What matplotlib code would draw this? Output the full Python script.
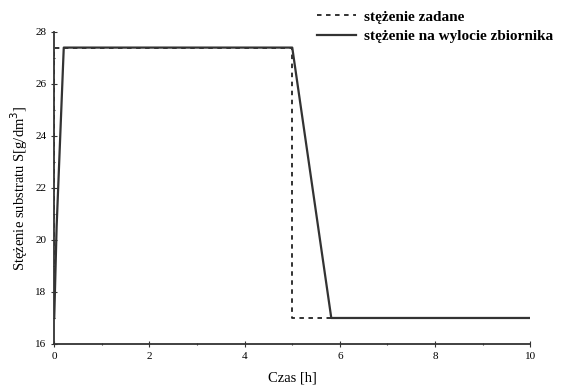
import matplotlib.pyplot as plt
from matplotlib.ticker import MultipleLocator

# setpoint (stezenie zadane)
t_set = [0, 0, 5.0, 5.0, 10]
s_set = [17.0, 27.4, 27.4, 17.0, 17.0]

# outlet concentration (stezenie na wylocie zbiornika)
t_out = [0, 0.05, 0.2, 5.0, 5.82, 10]
s_out = [17.0, 20.5, 27.4, 27.4, 17.0, 17.0]

plt.rcParams['font.family'] = ['Liberation Serif', 'DejaVu Serif']

fig = plt.figure(figsize=(5.77, 3.90), dpi=100)
ax = fig.add_axes([0.094, 0.118, 0.825, 0.8])

ax.plot(t_set, s_set, color='#222222', ls=(0, (2.5, 2.5)), lw=1.3, label='stężenie zadane')
ax.plot(t_out, s_out, color='#333333', ls='-', lw=1.6, label='stężenie na wylocie zbiornika')

ax.set_xlim(0, 10)
ax.set_ylim(16, 28)
ax.xaxis.set_major_locator(MultipleLocator(2))
ax.xaxis.set_minor_locator(MultipleLocator(1))
ax.yaxis.set_major_locator(MultipleLocator(2))
ax.yaxis.set_minor_locator(MultipleLocator(1))
ax.tick_params(which='both', direction='inout', labelsize=8, width=0.8, color='#333333')
ax.tick_params(which='major', length=4)
ax.tick_params(which='minor', length=2)
for side in ['top', 'right']:
    ax.spines[side].set_visible(False)
for side in ['left', 'bottom']:
    ax.spines[side].set_linewidth(1.3)
    ax.spines[side].set_color('#333333')

ax.set_xlabel('Czas [h]', fontsize=10.5, labelpad=8)
ax.set_ylabel('Stężenie substratu S[g/dm$^3$]', fontsize=10.5)

leg = fig.legend(loc='upper left', bbox_to_anchor=(0.525, 1.01), frameon=False,
                 handlelength=2.6, handletextpad=0.5, labelspacing=0.4,
                 prop={'weight': 'bold', 'size': 11})

plt.savefig('out.png', dpi=100)
